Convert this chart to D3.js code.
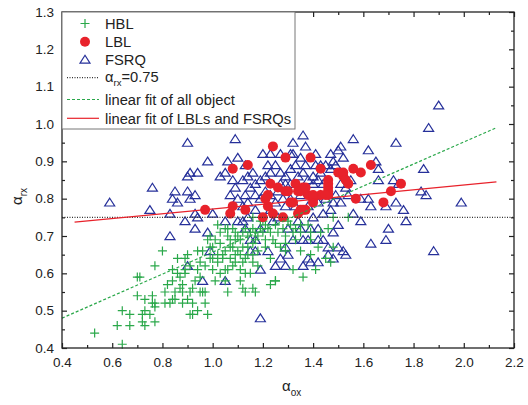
<!DOCTYPE html>
<html>
<head>
<meta charset="UTF-8">
<script src="https://cdn.jsdelivr.net/npm/d3@7"></script>
<style>
body { margin: 0; background: #fff; }
svg { display: block; font-family: "Liberation Sans", Arial, sans-serif; }
</style>
</head>
<body>
<div id="chart"></div>
<script>

// HBL (green crosses), [alpha_ox, alpha_rx]
const hbl = [
  [0.53,0.44],[0.64,0.41],[0.62,0.46],[0.64,0.50],[0.67,0.49],[0.67,0.46],[0.70,0.59],[0.71,0.59],
  [0.70,0.54],[0.72,0.49],[0.72,0.47],[0.73,0.46],[0.73,0.50],[0.73,0.53],[0.76,0.54],[0.75,0.49],
  [0.76,0.52],[0.77,0.47],[0.77,0.62],[0.77,0.52],[0.77,0.51],[0.80,0.66],[0.81,0.55],[0.81,0.52],
  [0.83,0.52],[0.84,0.61],[0.85,0.55],[0.85,0.53],[0.86,0.64],[0.86,0.60],[0.87,0.56],[0.88,0.55],
  [0.88,0.57],[0.89,0.64],[0.89,0.61],[0.90,0.65],[0.91,0.62],[0.91,0.55],[0.91,0.49],[0.92,0.49],
  [0.92,0.52],[0.94,0.66],[0.94,0.50],[0.95,0.59],[0.96,0.55],[0.97,0.52],[0.97,0.55],[0.98,0.49],
  [0.98,0.69],[0.99,0.67],[0.99,0.64],[1.00,0.61],[1.01,0.58],[1.02,0.65],[1.03,0.71],[1.03,0.68],
  [1.04,0.64],[1.04,0.65],[1.05,0.61],[1.05,0.58],[1.06,0.55],[1.06,0.72],[1.07,0.67],[1.07,0.64],
  [1.08,0.62],[1.09,0.71],[1.09,0.69],[1.10,0.66],[1.11,0.61],[1.11,0.58],[1.12,0.56],[1.13,0.55],
  [1.13,0.64],[1.14,0.67],[1.15,0.71],[1.16,0.65],[1.16,0.63],[1.16,0.56],[1.17,0.55],[1.17,0.69],
  [1.18,0.66],[1.19,0.72],[1.20,0.71],[1.21,0.67],[1.21,0.69],[1.22,0.72],[1.23,0.57],[1.23,0.64],
  [1.25,0.58],[1.25,0.58],[1.25,0.68],[1.26,0.71],[1.27,0.75],[1.28,0.72],[1.29,0.66],[1.29,0.70],
  [1.31,0.73],[1.32,0.71],[1.32,0.61],[1.35,0.73],[1.35,0.66],[1.36,0.59],[1.38,0.73],[1.39,0.71],
  [1.39,0.65],[1.41,0.61],[1.43,0.71],[1.45,0.64],[1.46,0.72],[1.47,0.63],[1.48,0.67],[1.48,0.75],
  [1.54,0.75],[1.13,0.72],[1.16,0.72],[1.06,0.70],[1.08,0.67],[1.11,0.65],[1.00,0.67],[0.96,0.66],
  [0.95,0.63],[0.94,0.61],[0.89,0.60],[0.87,0.59],[0.84,0.58],[0.82,0.57],[0.97,0.62],[1.02,0.63],
  [1.16,0.75],[1.20,0.74],[1.12,0.63],[1.09,0.63],[1.06,0.61],[1.03,0.60],[1.00,0.64],[0.95,0.55],
  [0.92,0.56],[0.90,0.53],[1.24,0.69],[1.27,0.67],[1.29,0.68],[1.33,0.69],[1.42,0.67],[1.35,0.71],
  [1.39,0.69],[1.11,0.69],[1.14,0.70],[1.17,0.71],[1.08,0.72],[1.05,0.72],
  [1.10,0.70],[1.12,0.67],[1.14,0.65],[1.16,0.68],[1.18,0.70],[1.19,0.74],[1.21,0.73],[1.23,0.71],
  [1.05,0.66],[1.07,0.69],[1.01,0.69],[0.99,0.70],[1.02,0.73],[1.12,0.71],[1.25,0.73],[1.30,0.74],
  [1.33,0.72],[1.09,0.65],[1.13,0.60],[0.93,0.58],[0.88,0.52],[0.84,0.53],[1.18,0.62],[1.15,0.60]
];

// LBL (red dots)
const lbl = [
  [0.97,0.77],[1.07,0.76],[1.08,0.78],[1.08,0.88],[1.14,0.89],[1.13,0.77],[1.20,0.75],[1.24,0.94],
  [1.29,0.91],[1.23,0.84],[1.22,0.81],[1.21,0.80],[1.22,0.78],[1.24,0.76],[1.26,0.83],[1.29,0.82],
  [1.28,0.75],[1.31,0.79],[1.33,0.84],[1.34,0.82],[1.36,0.83],[1.34,0.76],[1.36,0.77],[1.37,0.77],
  [1.39,0.91],[1.43,0.88],[1.38,0.81],[1.40,0.80],[1.40,0.79],[1.43,0.81],[1.46,0.85],[1.46,0.84],
  [1.46,0.83],[1.46,0.82],[1.46,0.81],[1.50,0.87],[1.52,0.86],[1.52,0.87],[1.54,0.84],[1.56,0.88],
  [1.59,0.87],[1.57,0.80],[1.63,0.89],[1.68,0.79],[1.71,0.82],[1.75,0.84],[1.35,0.82],[1.30,0.82],
  [1.32,0.79],[1.40,0.81],[1.45,0.81],[1.53,0.85],[1.35,0.77],[1.37,0.83]
];

// FSRQ (blue open triangles)
const fsrq = [
  [0.59,0.79],[0.75,0.77],[0.76,0.83],[0.83,0.76],[0.83,0.70],[0.85,0.82],[0.84,0.80],[0.86,0.79],
  [0.90,0.95],[0.90,0.86],[0.91,0.87],[0.94,0.87],[0.98,0.90],[0.89,0.74],[0.90,0.82],[0.91,0.80],
  [0.93,0.81],[0.93,0.72],[0.93,0.76],[0.94,0.75],[0.98,0.71],[1.00,0.76],[0.90,0.62],[0.96,0.58],
  [0.99,0.66],[1.05,0.58],[1.03,0.86],[1.05,0.87],[1.09,0.96],[1.06,0.90],[1.10,0.91],[1.08,0.85],
  [1.09,0.83],[1.07,0.81],[1.10,0.80],[1.13,0.89],[1.12,0.85],[1.14,0.86],[1.16,0.87],[1.15,0.83],
  [1.17,0.84],[1.19,0.85],[1.13,0.81],[1.14,0.79],[1.17,0.81],[1.17,0.77],[1.20,0.92],[1.23,0.92],
  [1.23,0.87],[1.25,0.89],[1.27,0.92],[1.27,0.87],[1.29,0.86],[1.31,0.88],[1.32,0.95],[1.32,0.92],
  [1.33,0.89],[1.36,0.97],[1.37,0.94],[1.41,0.92],[1.37,0.89],[1.40,0.86],[1.43,0.87],[1.47,0.92],
  [1.49,0.89],[1.50,0.93],[1.51,0.94],[1.56,0.96],[1.52,0.91],[1.62,0.93],[1.65,0.90],[1.66,0.88],
  [1.66,0.85],[1.73,0.95],[1.84,0.88],[1.86,0.99],[1.90,1.05],[1.83,0.82],[1.85,0.81],[1.74,0.84],
  [1.72,0.85],[1.73,0.79],[1.69,0.78],[1.63,0.78],[1.76,0.77],[1.77,0.74],[1.70,0.72],[1.69,0.69],
  [1.63,0.68],[1.59,0.74],[1.56,0.76],[1.59,0.80],[1.88,0.66],[1.99,0.79],[1.53,0.65],[1.52,0.66],
  [1.50,0.67],[1.50,0.73],[1.48,0.71],[1.48,0.64],[1.46,0.65],[1.46,0.67],[1.44,0.69],[1.42,0.69],
  [1.42,0.72],[1.39,0.63],[1.38,0.64],[1.36,0.62],[1.39,0.72],[1.40,0.75],[1.38,0.69],[1.29,0.62],
  [1.25,0.62],[1.19,0.61],[1.19,0.48],[1.22,0.66],[1.29,0.67],[1.32,0.69],[1.30,0.72],[1.35,0.72],
  [1.34,0.74],[1.17,0.69],[1.15,0.69],[1.13,0.72],[1.17,0.66],[1.15,0.66],[1.12,0.74],[1.10,0.74],
  [1.05,0.74],[1.14,0.75],[1.24,0.74],[1.19,0.72],[1.26,0.75],[1.23,0.77],[1.29,0.78],[1.31,0.80],
  [1.33,0.78],[1.35,0.81],[1.43,0.81],[1.45,0.80],[1.47,0.77],[1.48,0.79],[1.49,0.81],[1.51,0.84],
  [1.53,0.83],[1.55,0.85],[1.47,0.88],[1.45,0.89],[1.42,0.85],[1.40,0.84],[1.38,0.85],[1.31,0.84],
  [1.29,0.84],[1.26,0.82],[1.23,0.81],[1.21,0.82],[1.19,0.80],[1.43,0.89],[1.51,0.87],[1.48,0.90],
  [1.36,0.87],[1.31,0.92],[1.62,0.80],
  [1.21,0.86],[1.27,0.84],[1.34,0.86],[1.38,0.78],[1.42,0.79],[1.28,0.80],[1.25,0.79],[1.44,0.84],
  [1.41,0.89],[1.35,0.91],[1.22,0.89],[1.12,0.78],[1.44,0.76],[1.51,0.79],[1.54,0.81],[1.36,0.69],
  [1.30,0.65],[1.42,0.63],[1.27,0.64]
];

// reference line and fits: [x0, x1], [y0, y1]
const thresholdX = [0.4, 2.2], thresholdY = [0.75, 0.75];
const fitAllX = [0.4, 2.13], fitAllY = [0.48, 0.99];
const fitLfX = [0.45, 2.13], fitLfY = [0.737, 0.845];

const xTicks = [0.4, 0.6, 0.8, 1.0, 1.2, 1.4, 1.6, 1.8, 2.0, 2.2];
const yTicks = [0.4, 0.5, 0.6, 0.7, 0.8, 0.9, 1.0, 1.1, 1.2, 1.3];

const W = 528, H = 405;
const plotL = 62, plotR = 514, plotT = 12, plotB = 348;

const green = "#2aa84a", red = "#e8222b", blue = "#26309a";

const x = d3.scaleLinear().domain([0.4, 2.2]).range([plotL, plotR]);
const y = d3.scaleLinear().domain([0.4, 1.3]).range([plotB, plotT]);

const svg = d3.select("#chart").append("svg")
    .attr("width", W)
    .attr("height", H);

const line = d3.line().x(d => x(d[0])).y(d => y(d[1]));
const pairs = (a, b) => a.map((v, i) => [v, b[i]]);

// markers
const crossPath = "M-4.5,0H4.5M0,-4.5V4.5";
const triPath = "M0,-4.2L5,3.6L-5,3.6Z";

svg.append("g").selectAll("path")
    .data(fsrq)
  .enter().append("path")
    .attr("d", triPath)
    .attr("transform", d => "translate(" + x(d[0]) + "," + y(d[1]) + ")")
    .attr("fill", "none")
    .attr("stroke", blue)
    .attr("stroke-width", 1.2);

svg.append("g").selectAll("path")
    .data(hbl)
  .enter().append("path")
    .attr("d", crossPath)
    .attr("transform", d => "translate(" + x(d[0]) + "," + y(d[1]) + ")")
    .attr("stroke", green)
    .attr("stroke-width", 1.2);

svg.append("g").selectAll("circle")
    .data(lbl)
  .enter().append("circle")
    .attr("cx", d => x(d[0]))
    .attr("cy", d => y(d[1]))
    .attr("r", 5)
    .attr("fill", red);

// lines
svg.append("path")
    .attr("d", line(pairs(thresholdX, thresholdY)))
    .attr("stroke", "#333").attr("stroke-width", 1.2)
    .attr("stroke-dasharray", "1,1.5").attr("fill", "none");

svg.append("path")
    .attr("d", line(pairs(fitAllX, fitAllY)))
    .attr("stroke", green).attr("stroke-width", 1.2)
    .attr("stroke-dasharray", "3,2").attr("fill", "none");

svg.append("path")
    .attr("d", line(pairs(fitLfX, fitLfY)))
    .attr("stroke", red).attr("stroke-width", 1.2)
    .attr("fill", "none");

// axes: major + minor ticks, inward, on all four sides
function minor(step, a, b) {
  const out = [];
  for (let v = a; v <= b + 1e-9; v += step) out.push(+v.toFixed(3));
  return out;
}
const xMinor = minor(0.1, 0.4, 2.2).filter(v => !xTicks.some(t => Math.abs(t - v) < 1e-6));
const yMinor = minor(0.05, 0.4, 1.3).filter(v => !yTicks.some(t => Math.abs(t - v) < 1e-6));

function styleAxis(g) {
  g.select(".domain").remove();
  g.selectAll("line").attr("stroke", "#222").attr("stroke-width", 1.2);
  g.selectAll("text").attr("fill", "#222").style("font-size", "13.5px")
    .style("font-family", "'Liberation Sans', Arial, sans-serif");
}

svg.append("g").attr("transform", "translate(0," + plotB + ")")
    .call(d3.axisBottom(x).tickValues(xTicks).tickSize(-5).tickPadding(9).tickFormat(d3.format(".1f")))
    .call(styleAxis);
svg.append("g").attr("transform", "translate(0," + plotB + ")")
    .call(d3.axisBottom(x).tickValues(xMinor).tickSize(-3).tickFormat(""))
    .call(styleAxis);
svg.append("g").attr("transform", "translate(0," + plotT + ")")
    .call(d3.axisTop(x).tickValues(xTicks).tickSize(-5).tickFormat(""))
    .call(styleAxis);
svg.append("g").attr("transform", "translate(0," + plotT + ")")
    .call(d3.axisTop(x).tickValues(xMinor).tickSize(-3).tickFormat(""))
    .call(styleAxis);

svg.append("g").attr("transform", "translate(" + plotL + ",0)")
    .call(d3.axisLeft(y).tickValues(yTicks).tickSize(-5).tickPadding(8).tickFormat(d3.format(".1f")))
    .call(styleAxis);
svg.append("g").attr("transform", "translate(" + plotL + ",0)")
    .call(d3.axisLeft(y).tickValues(yMinor).tickSize(-3).tickFormat(""))
    .call(styleAxis);
svg.append("g").attr("transform", "translate(" + plotR + ",0)")
    .call(d3.axisRight(y).tickValues(yTicks).tickSize(-5).tickFormat(""))
    .call(styleAxis);
svg.append("g").attr("transform", "translate(" + plotR + ",0)")
    .call(d3.axisRight(y).tickValues(yMinor).tickSize(-3).tickFormat(""))
    .call(styleAxis);

// frame
svg.append("rect")
    .attr("x", plotL).attr("y", plotT)
    .attr("width", plotR - plotL).attr("height", plotB - plotT)
    .attr("fill", "none").attr("stroke", "#222").attr("stroke-width", 1.3);

// legend
const leg = svg.append("g");
leg.append("rect")
    .attr("x", plotL).attr("y", plotT)
    .attr("width", 233).attr("height", 117)
    .attr("fill", "#fff").attr("stroke", "#777").attr("stroke-width", 1);

const legText = (ty, label, sub, rest) => {
  const t = leg.append("text").attr("x", 105).attr("y", ty)
      .attr("fill", "#222").style("font-size", "14.7px");
  t.append("tspan").text(label);
  if (sub) {
    t.append("tspan").attr("dy", 4).style("font-size", "9.5px").text(sub);
    t.append("tspan").attr("dy", -4).text(rest);
  }
};

leg.append("path").attr("d", crossPath).attr("transform", "translate(85,23.5)")
    .attr("stroke", green).attr("stroke-width", 1.2);
legText(28.5, "HBL");
leg.append("circle").attr("cx", 85).attr("cy", 41.7).attr("r", 5).attr("fill", red);
legText(46.5, "LBL");
leg.append("path").attr("d", triPath).attr("transform", "translate(85,59.5)")
    .attr("fill", "none").attr("stroke", blue).attr("stroke-width", 1.2);
legText(64.5, "FSRQ");

leg.append("line").attr("x1", 67).attr("x2", 99).attr("y1", 77.7).attr("y2", 77.7)
    .attr("stroke", "#333").attr("stroke-width", 1.2).attr("stroke-dasharray", "1,1.5");
legText(82, "\u03b1", "rx", "=0.75");
leg.append("line").attr("x1", 67).attr("x2", 99).attr("y1", 99.5).attr("y2", 99.5)
    .attr("stroke", green).attr("stroke-width", 1.2).attr("stroke-dasharray", "3,2");
legText(105, "linear fit of all object");
leg.append("line").attr("x1", 67).attr("x2", 99).attr("y1", 118.3).attr("y2", 118.3)
    .attr("stroke", red).attr("stroke-width", 1.2);
legText(123.5, "linear fit of LBLs and FSRQs");

// axis titles
const xt = svg.append("text").attr("x", 282).attr("y", 391)
    .attr("fill", "#222").style("font-size", "15px");
xt.append("tspan").text("\u03b1");
xt.append("tspan").attr("dy", 5).style("font-size", "10px").text("ox");

const yt = svg.append("text")
    .attr("transform", "translate(22,205) rotate(-90)")
    .attr("fill", "#222").style("font-size", "15px");
yt.append("tspan").text("\u03b1");
yt.append("tspan").attr("dy", 5).style("font-size", "10px").text("rx");

</script>
</body>
</html>
